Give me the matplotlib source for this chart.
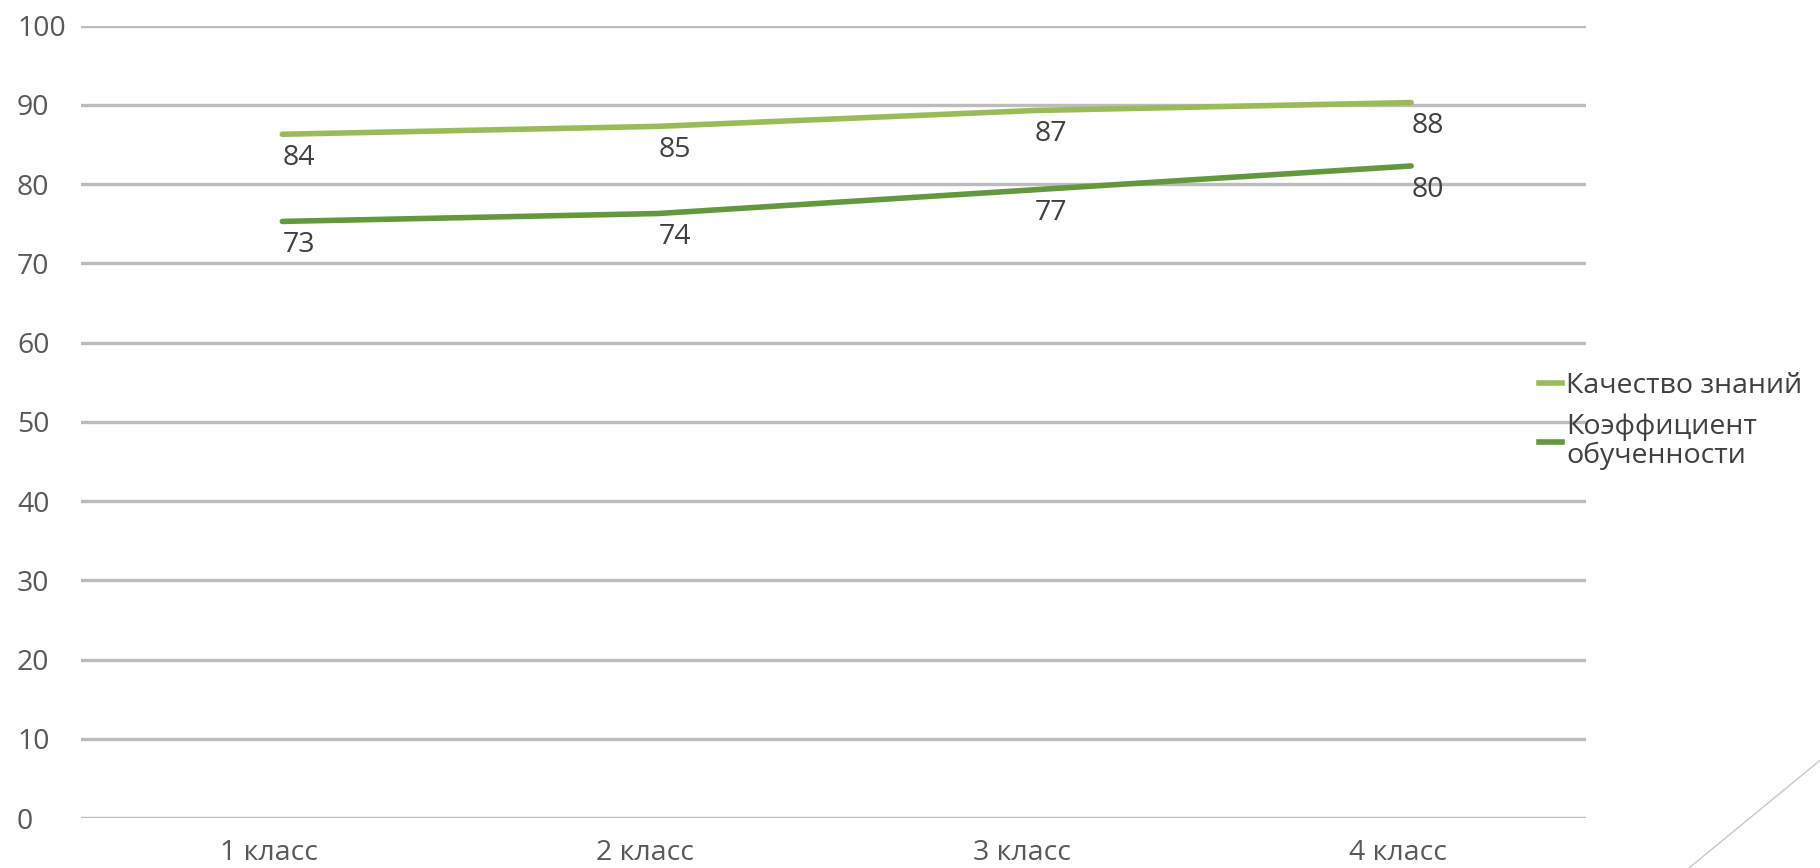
import matplotlib.pyplot as plt
import matplotlib.transforms as mtransforms
from matplotlib.lines import Line2D

# data
classes = ["1 класс", "2 класс", "3 класс", "4 класс"]
kachestvo = [84, 85, 87, 88]
obuchennost = [73, 74, 77, 80]
series_names = ["Качество знаний", "Коэффициент\nобученности"]

plt.rcParams['font.family'] = ['Open Sans', 'DejaVu Sans']
fs = 20.5

fig = plt.figure(figsize=(18.2, 8.68), dpi=100)
ax = fig.add_axes([0.0445, 0.0576, 0.827, 0.913])

x = list(range(len(classes)))
colors = ["#9bbb59", "#64983f"]

# lines are drawn slightly up/right of the labels, like in the original picture
line_tr = mtransforms.offset_copy(ax.transData, fig=fig, x=9.5, y=13, units='points')
lab_tr = mtransforms.offset_copy(ax.transData, fig=fig, x=9.5, y=-4, units='points')

for vals, col in zip([kachestvo, obuchennost], colors):
    ax.plot(x, vals, color=col, lw=4, solid_capstyle='round', transform=line_tr, zorder=3)
    for xi, v in zip(x, vals):
        ax.text(xi, v, str(v), transform=lab_tr, ha='left', va='center',
                fontsize=fs, color="#404040", zorder=4)

ax.set_xlim(-0.5, 3.5)
ax.set_ylim(0, 100)
ax.set_yticks(range(0, 101, 10))
ax.set_xticks(x)
ax.set_xticklabels(classes)

ax.grid(axis='y', color="#bcbcbc", lw=2.4)
ax.set_axisbelow(True)
for s in ax.spines.values():
    s.set_visible(False)

ax.tick_params(axis='both', length=0, labelsize=fs, labelcolor="#595959")
ax.tick_params(axis='y', pad=46)
ax.tick_params(axis='x', pad=15)
for t in ax.get_yticklabels():
    t.set_horizontalalignment('left')

handles = [Line2D([], [], color=c, lw=4) for c in colors]
leg = fig.legend(handles, series_names, loc='center left', bbox_to_anchor=(0.838, 0.515),
                 frameon=False, fontsize=fs, handlelength=0.8, handletextpad=0.15,
                 borderpad=0, labelspacing=0.45, labelcolor="#404040")
for t in leg.get_texts():
    t.set_linespacing(1.0)

# decorative slide line in the corner
fig.add_artist(Line2D([1.0, 0.928], [0.124, 0.0], transform=fig.transFigure,
                      color="#c8c8c8", lw=1))

fig.savefig("out.png", dpi=100)
